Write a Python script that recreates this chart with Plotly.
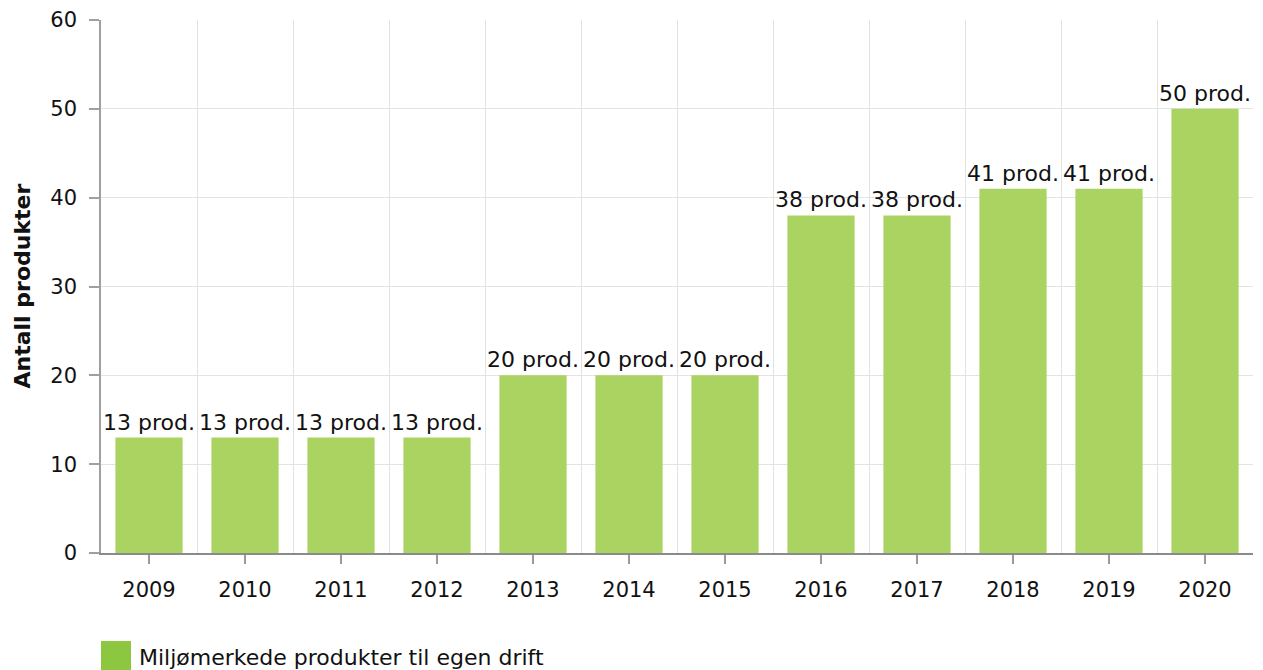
import plotly.graph_objects as go

years = ["2009", "2010", "2011", "2012", "2013", "2014", "2015", "2016", "2017", "2018", "2019", "2020"]
products = [13, 13, 13, 13, 20, 20, 20, 38, 38, 41, 41, 50]
labels = [f"{v} prod." for v in products]
series_name = "Miljømerkede produkter til egen drift"
y_title = "Antall produkter"
y_ticks = [0, 10, 20, 30, 40, 50, 60]

FONT = "DejaVu Sans, Verdana, sans-serif"
FS = 21
idx = list(range(len(years)))

PW, PH = 1152, 533

fig = go.Figure()
fig.add_trace(go.Bar(
    x=idx, y=products, width=0.7,
    marker=dict(color="#abd362", line=dict(width=0)),
    text=labels, textposition="outside", cliponaxis=False, constraintext="none",
    textfont=dict(family=FONT, size=22, color="#111"),
    name=series_name, showlegend=False, hoverinfo="skip",
))

fig.update_layout(
    width=1263, height=670,
    margin=dict(l=101, r=10, t=20, b=117, autoexpand=False),
    plot_bgcolor="white", paper_bgcolor="white",
    font=dict(family=FONT, size=FS, color="#111"),
    bargap=0.3,
)
fig.update_xaxes(
    range=[-0.5, len(years) - 0.5], automargin=False,
    tickmode="array", tickvals=idx, ticktext=years,
    showgrid=False, zeroline=False,
    showline=True, linecolor="#8a8a8a", linewidth=1.5,
    ticks="outside", ticklen=9, tickcolor="#999", tickwidth=1.5,
    ticklabelstandoff=8,
    tickfont=dict(size=FS, color="#111"),
    minor=dict(tickmode="array", tickvals=[i - 0.5 for i in range(len(years) + 1)],
               showgrid=True, gridcolor="#e3e3e3", gridwidth=1, ticks=""),
)
fig.update_yaxes(
    range=[0, 60], tickmode="array", tickvals=y_ticks, automargin=False,
    showgrid=True, gridcolor="#e3e3e3", gridwidth=1,
    zeroline=False, showline=True, linecolor="#a0a0a0", linewidth=1.5,
    ticks="outside", ticklen=10, tickcolor="#a0a0a0", tickwidth=1.5,
    ticklabelstandoff=8,
    tickfont=dict(size=FS, color="#111"),
)

# Y axis title
fig.add_annotation(xref="paper", yref="paper", x=-79 / PW, y=0.5,
                   text=f"<b>{y_title}</b>", textangle=-90, showarrow=False,
                   xanchor="center", yanchor="middle",
                   font=dict(family=FONT, size=22, color="#111"))

# Legend (drawn as swatch + text below the plot)
fig.add_shape(type="rect", xref="paper", yref="paper",
              x0=0, x1=30 / PW, y0=-88 / PH, y1=-118 / PH,
              fillcolor="#8dc63f", line=dict(width=0))
fig.add_annotation(xref="paper", yref="paper", x=36 / PW, y=-104 / PH,
                   text=series_name, showarrow=False, xanchor="left", yanchor="middle",
                   font=dict(family=FONT, size=22, color="#111"))

fig.write_html("out.html", config={"displayModeBar": False},
               post_script="document.body.style.margin='0';document.body.style.overflow='hidden';")
